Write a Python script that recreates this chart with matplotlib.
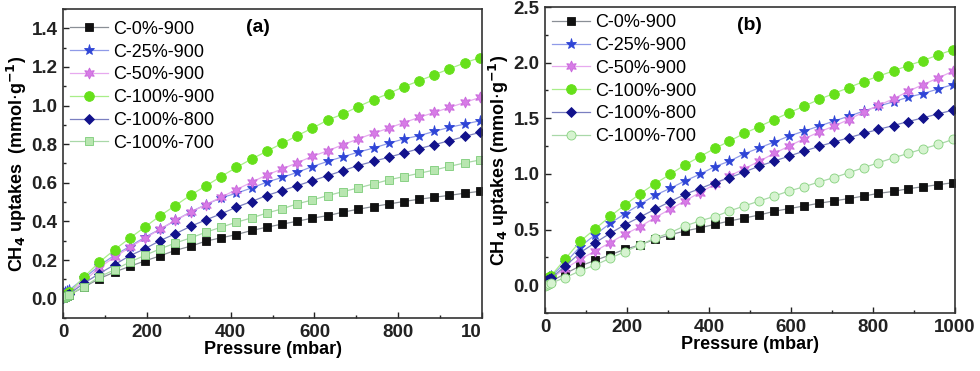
import matplotlib
matplotlib.use("Agg")
import matplotlib.pyplot as plt
from matplotlib.ticker import MultipleLocator, FormatStrFormatter
from matplotlib.transforms import Bbox, TransformedBbox

plt.rcParams['font.family'] = ['Liberation Sans', 'DejaVu Sans']

# pressure points (mbar), same for every isotherm
pressure = [1, 5, 10, 15, 50, 86, 123, 159, 195, 232, 268, 305, 341, 377, 414, 450,
            486, 523, 559, 595, 632, 668, 704, 741, 777, 813, 850, 886, 922, 959, 995]

labels = ['C-0%-900', 'C-25%-900', 'C-50%-900', 'C-100%-900', 'C-100%-800', 'C-100%-700']

# panel (a)
a_c0_900 = [0.002, 0.008, 0.014, 0.020, 0.060, 0.103, 0.138, 0.167, 0.195, 0.222, 0.250,
            0.272, 0.298, 0.315, 0.332, 0.353, 0.370, 0.386, 0.401, 0.417, 0.430, 0.448,
            0.463, 0.477, 0.490, 0.503, 0.515, 0.525, 0.535, 0.546, 0.556]
a_c25_900 = [0.030, 0.035, 0.040, 0.045, 0.105, 0.170, 0.225, 0.270, 0.318, 0.360, 0.405,
             0.450, 0.487, 0.522, 0.546, 0.573, 0.603, 0.628, 0.654, 0.684, 0.711, 0.735,
             0.758, 0.780, 0.804, 0.827, 0.844, 0.866, 0.887, 0.904, 0.921]
a_c50_900 = [0.020, 0.025, 0.030, 0.035, 0.090, 0.160, 0.215, 0.265, 0.312, 0.360, 0.405,
             0.448, 0.487, 0.525, 0.565, 0.603, 0.640, 0.672, 0.704, 0.737, 0.766, 0.797,
             0.827, 0.856, 0.883, 0.911, 0.939, 0.964, 0.990, 1.016, 1.042]
a_c100_900 = [0.010, 0.018, 0.025, 0.032, 0.112, 0.188, 0.253, 0.313, 0.370, 0.430, 0.482,
              0.537, 0.584, 0.632, 0.680, 0.723, 0.763, 0.804, 0.844, 0.883, 0.925, 0.956,
              0.994, 1.030, 1.062, 1.097, 1.128, 1.159, 1.190, 1.221, 1.248]
a_c100_800 = [0.005, 0.012, 0.018, 0.025, 0.080, 0.129, 0.176, 0.222, 0.258, 0.301, 0.336,
              0.375, 0.408, 0.439, 0.474, 0.503, 0.534, 0.560, 0.585, 0.611, 0.637, 0.663,
              0.689, 0.711, 0.732, 0.754, 0.777, 0.797, 0.818, 0.840, 0.861]
a_c100_700 = [0.003, 0.009, 0.015, 0.021, 0.062, 0.112, 0.150, 0.189, 0.224, 0.258, 0.288,
              0.315, 0.344, 0.370, 0.396, 0.418, 0.443, 0.465, 0.491, 0.511, 0.534, 0.554,
              0.573, 0.594, 0.615, 0.632, 0.649, 0.666, 0.685, 0.703, 0.718]

# panel (b)
b_c0_900 = [0.005, 0.015, 0.025, 0.035, 0.105, 0.173, 0.224, 0.272, 0.323, 0.362, 0.413,
            0.452, 0.487, 0.514, 0.547, 0.577, 0.604, 0.631, 0.664, 0.688, 0.712, 0.736,
            0.757, 0.778, 0.801, 0.825, 0.843, 0.867, 0.885, 0.903, 0.921]
b_c25_900 = [0.050, 0.060, 0.070, 0.080, 0.203, 0.347, 0.455, 0.556, 0.643, 0.727, 0.807,
             0.870, 0.936, 0.996, 1.065, 1.115, 1.181, 1.235, 1.286, 1.340, 1.385, 1.429,
             1.474, 1.519, 1.564, 1.609, 1.648, 1.690, 1.722, 1.764, 1.803]
b_c50_900 = [0.030, 0.040, 0.050, 0.060, 0.150, 0.233, 0.308, 0.383, 0.458, 0.526, 0.607,
             0.682, 0.757, 0.831, 0.906, 0.981, 1.047, 1.115, 1.184, 1.250, 1.316, 1.376,
             1.429, 1.489, 1.555, 1.615, 1.675, 1.743, 1.803, 1.863, 1.923]
b_c100_900 = [0.040, 0.055, 0.070, 0.085, 0.239, 0.395, 0.508, 0.619, 0.721, 0.822, 0.912,
              0.996, 1.080, 1.154, 1.229, 1.295, 1.364, 1.426, 1.489, 1.549, 1.609, 1.669,
              1.722, 1.776, 1.830, 1.878, 1.926, 1.974, 2.019, 2.069, 2.117]
b_c100_800 = [0.035, 0.045, 0.055, 0.065, 0.173, 0.293, 0.383, 0.466, 0.544, 0.613, 0.682,
              0.751, 0.816, 0.867, 0.921, 0.966, 1.017, 1.071, 1.115, 1.160, 1.205, 1.247,
              1.286, 1.325, 1.364, 1.400, 1.435, 1.471, 1.504, 1.540, 1.573]
b_c100_700 = [-0.010, 0.000, 0.010, 0.020, 0.069, 0.129, 0.182, 0.242, 0.302, 0.362, 0.422,
              0.472, 0.532, 0.577, 0.616, 0.667, 0.712, 0.757, 0.801, 0.846, 0.885, 0.927,
              0.966, 1.011, 1.056, 1.100, 1.145, 1.184, 1.226, 1.265, 1.310]

# marker styles: (marker, face, edge, line colour, size)
styles_a = [
    ('s', '#111111', '#111111', '#8a8f96', 6.0),
    ('*', '#2f45d6', '#2f45d6', '#8f9ae8', 8.0),
    ((6, 1, 0), '#d77be6', '#c968dc', '#e7a9ef', 8.0),
    ('o', '#66e01a', '#66e01a', '#a8ee88', 7.0),
    ('D', '#12128c', '#12128c', '#7a7fc0', 5.5),
    ('s', '#b8e6b0', '#7ccc78', '#a9d8a8', 5.5),
]
styles_b = list(styles_a)
styles_b[5] = ('o', '#d6f3d0', '#86d27e', '#a9d8a8', 6.5)

fig = plt.figure(figsize=(9.8, 3.71), dpi=100)
ax1 = fig.add_axes([0.0643, 0.1429, 0.4276, 0.8330])
ax2 = fig.add_axes([0.5561, 0.1563, 0.4184, 0.8248])


def draw(ax, series, styles, ylim, ymaj, ymin, tag, tagx, legy):
    for vals, lab, st in zip(series, labels, styles):
        mk, fc, ec, lc, ms = st
        ax.plot(pressure, vals, color=lc, lw=0.9, marker=mk, ms=ms,
                mfc=fc, mec=ec, mew=0.6, label=lab)
    ax.set_xlim(0, 1000)
    ax.set_ylim(*ylim)
    ax.xaxis.set_major_locator(MultipleLocator(200))
    ax.xaxis.set_minor_locator(MultipleLocator(100))
    ax.yaxis.set_major_locator(MultipleLocator(ymaj))
    ax.yaxis.set_minor_locator(MultipleLocator(ymin))
    ax.yaxis.set_major_formatter(FormatStrFormatter('%.1f'))
    ax.tick_params(which='both', direction='in', top=False, right=False,
                   labelsize=13.5, width=1, colors='#222222')
    ax.tick_params(which='major', length=4, pad=4)
    ax.tick_params(which='minor', length=2.5)
    for lbl in ax.get_xticklabels() + ax.get_yticklabels():
        lbl.set_fontweight('bold')
    for sp in ax.spines.values():
        sp.set_linewidth(1.2)
        sp.set_color('#333333')
    ax.set_xlabel('Pressure (mbar)', fontsize=13, fontweight='bold', labelpad=0)
    ax.text(tagx, 0.94, tag, transform=ax.transAxes, fontsize=14,
            fontweight='bold', ha='center', va='center')
    ax.legend(loc='upper left', frameon=False, fontsize=13,
              handlelength=2.1, handletextpad=0.25, labelspacing=0.32,
              borderaxespad=0.0, bbox_to_anchor=(0.0, legy))


draw(ax1, [a_c0_900, a_c25_900, a_c50_900, a_c100_900, a_c100_800, a_c100_700],
     styles_a, (-0.1, 1.5), 0.2, 0.1, '(a)', 0.465, 0.985)
draw(ax2, [b_c0_900, b_c25_900, b_c50_900, b_c100_900, b_c100_800, b_c100_700],
     styles_b, (-0.25, 2.5), 0.5, 0.25, '(b)', 0.498, 1.0)

ax1.set_ylabel('CH$_\\mathbf{4}$ uptakes  (mmol$\\cdot$g$^{\\mathbf{-1}}$)',
               fontsize=13, fontweight='bold', labelpad=2)
ax2.set_ylabel('CH$_\\mathbf{4}$ uptakes (mmol$\\cdot$g$^{\\mathbf{-1}}$)',
               fontsize=13, fontweight='bold', labelpad=2)

# left panel's last tick label is cut at the panel border in the original
fig.canvas.draw()
clip = TransformedBbox(Bbox([[0, 0], [481 / 980, 1]]), fig.transFigure)
for lbl in ax1.get_xticklabels():
    lbl.set_clip_box(clip)
    lbl.set_clip_on(True)

fig.savefig('out.png', dpi=100)
